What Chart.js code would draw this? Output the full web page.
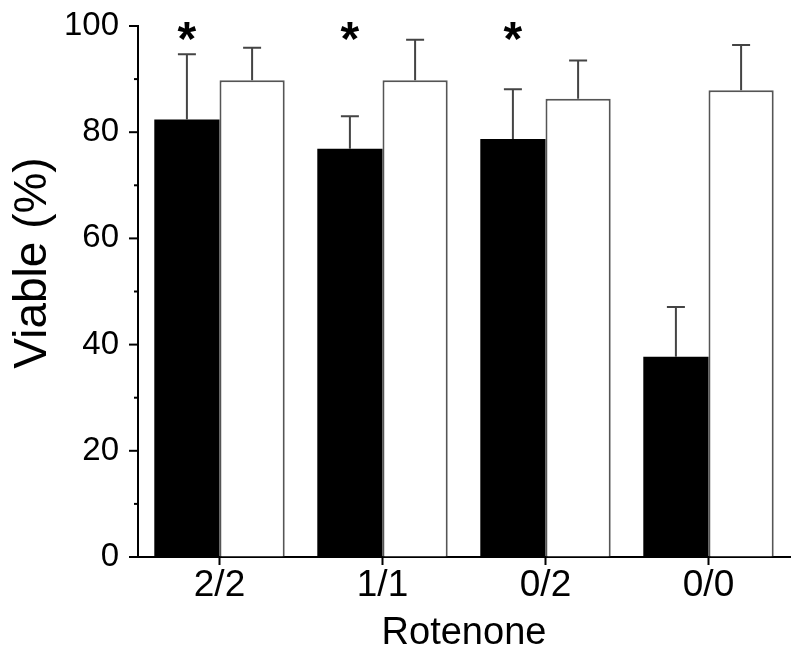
<!DOCTYPE html>
<html lang="en">
<head>
    <meta charset="UTF-8">
    <title>Viable (%) - Rotenone</title>
    <script src="https://cdn.jsdelivr.net/npm/chart.js"></script>
    <style>
        body { margin: 0; background: #fff; }
    </style>
</head>
<body>
    <canvas id="grafico1" width="800" height="655"></canvas>

    <script>
        // dados
        const categorias = ['2/2', '1/1', '0/2', '0/0'];
        const pretoMedia = [82.4, 76.9, 78.7, 37.7];
        const pretoDP = [12.3, 6.1, 9.4, 9.4];
        const brancoMedia = [89.8, 89.8, 86.3, 87.9];
        const brancoDP = [6.1, 7.6, 7.2, 8.5];
        const significativo = [true, true, true, false];
        const yTicks = [0, 20, 40, 60, 80, 100];
        const yTicksMenores = [10, 30, 50, 70, 90];

        const fonte = "'Liberation Sans', Arial, sans-serif";

        // barras de erro (só para cima), asteriscos, ticks e título do eixo y
        const extras = {
            id: 'extras',
            afterDatasetsDraw(chart) {
                const c = chart.ctx;
                const y = chart.scales.y;
                const erros = [pretoDP, brancoDP];
                c.save();
                c.strokeStyle = '#444';
                c.lineWidth = 2;
                chart.data.datasets.forEach((ds, i) => {
                    const meta = chart.getDatasetMeta(i);
                    meta.data.forEach((bar, j) => {
                        const topo = y.getPixelForValue(ds.data[j] + erros[i][j]);
                        c.beginPath();
                        c.moveTo(bar.x, bar.y);
                        c.lineTo(bar.x, topo);
                        c.moveTo(bar.x - 9, topo);
                        c.lineTo(bar.x + 9, topo);
                        c.stroke();
                    });
                });
                // asteriscos sobre as barras pretas
                c.fillStyle = '#000';
                c.font = 'bold 48px ' + fonte;
                c.textAlign = 'center';
                c.textBaseline = 'alphabetic';
                const meta0 = chart.getDatasetMeta(0);
                meta0.data.forEach((bar, j) => {
                    if (significativo[j]) {
                        c.fillText('*', bar.x, y.getPixelForValue(98.6) + 22);
                    }
                });
                c.restore();
            },
            afterDraw(chart) {
                const c = chart.ctx;
                const x = chart.scales.x;
                const y = chart.scales.y;
                c.save();
                c.strokeStyle = '#000';
                c.lineWidth = 2;
                // ticks do eixo y (maiores e menores)
                yTicks.forEach(v => {
                    const py = y.getPixelForValue(v);
                    c.beginPath();
                    c.moveTo(y.right - 9, py);
                    c.lineTo(y.right, py);
                    c.stroke();
                });
                yTicksMenores.forEach(v => {
                    const py = y.getPixelForValue(v);
                    c.beginPath();
                    c.moveTo(y.right - 4, py);
                    c.lineTo(y.right, py);
                    c.stroke();
                });
                // ticks do eixo x, no centro de cada grupo
                categorias.forEach((cat, i) => {
                    const px = x.getPixelForValue(i);
                    c.beginPath();
                    c.moveTo(px, x.top);
                    c.lineTo(px, x.top + 8);
                    c.stroke();
                });
                // título do eixo y
                c.fillStyle = '#000';
                c.font = '46px ' + fonte;
                c.textAlign = 'center';
                c.textBaseline = 'alphabetic';
                c.translate(46, 263);
                c.rotate(-Math.PI / 2);
                c.fillText('Viable (%)', 0, 0);
                c.restore();
            }
        };

        const ctx = document.getElementById('grafico1');

        let grafico1 = new Chart(ctx, {
            type: 'bar',
            data: {
                labels: categorias,
                datasets: [{
                    label: 'preto',
                    data: pretoMedia,
                    backgroundColor: '#000',
                    borderColor: '#000',
                    borderWidth: 0
                }, {
                    label: 'branco',
                    data: brancoMedia,
                    backgroundColor: '#fff',
                    borderColor: '#555',
                    borderWidth: 2
                }]
            },
            options: {
                responsive: false,
                animation: false,
                layout: { padding: { top: 26, right: 10, left: 0, bottom: 0 } },
                plugins: {
                    legend: { display: false },
                    tooltip: { enabled: false }
                },
                datasets: {
                    bar: { categoryPercentage: 0.8, barPercentage: 1.0 }
                },
                scales: {
                    x: {
                        afterFit: (s) => { s.height = 98; },
                        grid: {
                            display: true,
                            drawOnChartArea: false,
                            offset: false,
                            tickLength: 8,
                            tickColor: 'rgba(0,0,0,0)'
                        },
                        border: { color: '#000', width: 2 },
                        ticks: {
                            color: '#000',
                            padding: 2,
                            font: { family: fonte, size: 37, lineHeight: 1 }
                        },
                        title: {
                            display: true,
                            text: 'Rotenone',
                            color: '#000',
                            padding: { top: 0, bottom: 2 },
                            font: { family: fonte, size: 38, lineHeight: 1 }
                        }
                    },
                    y: {
                        min: 0,
                        max: 100,
                        afterFit: (s) => { s.width = 138; },
                        afterBuildTicks: (s) => { s.ticks = yTicks.map(v => ({ value: v })); },
                        grid: {
                            display: true,
                            drawOnChartArea: false,
                            tickLength: 19,
                            tickColor: 'rgba(0,0,0,0)'
                        },
                        border: { color: '#000', width: 2 },
                        ticks: {
                            color: '#000',
                            padding: 0,
                            font: { family: fonte, size: 33 }
                        }
                    }
                }
            },
            plugins: [extras]
        });
    </script>
</body>
</html>
